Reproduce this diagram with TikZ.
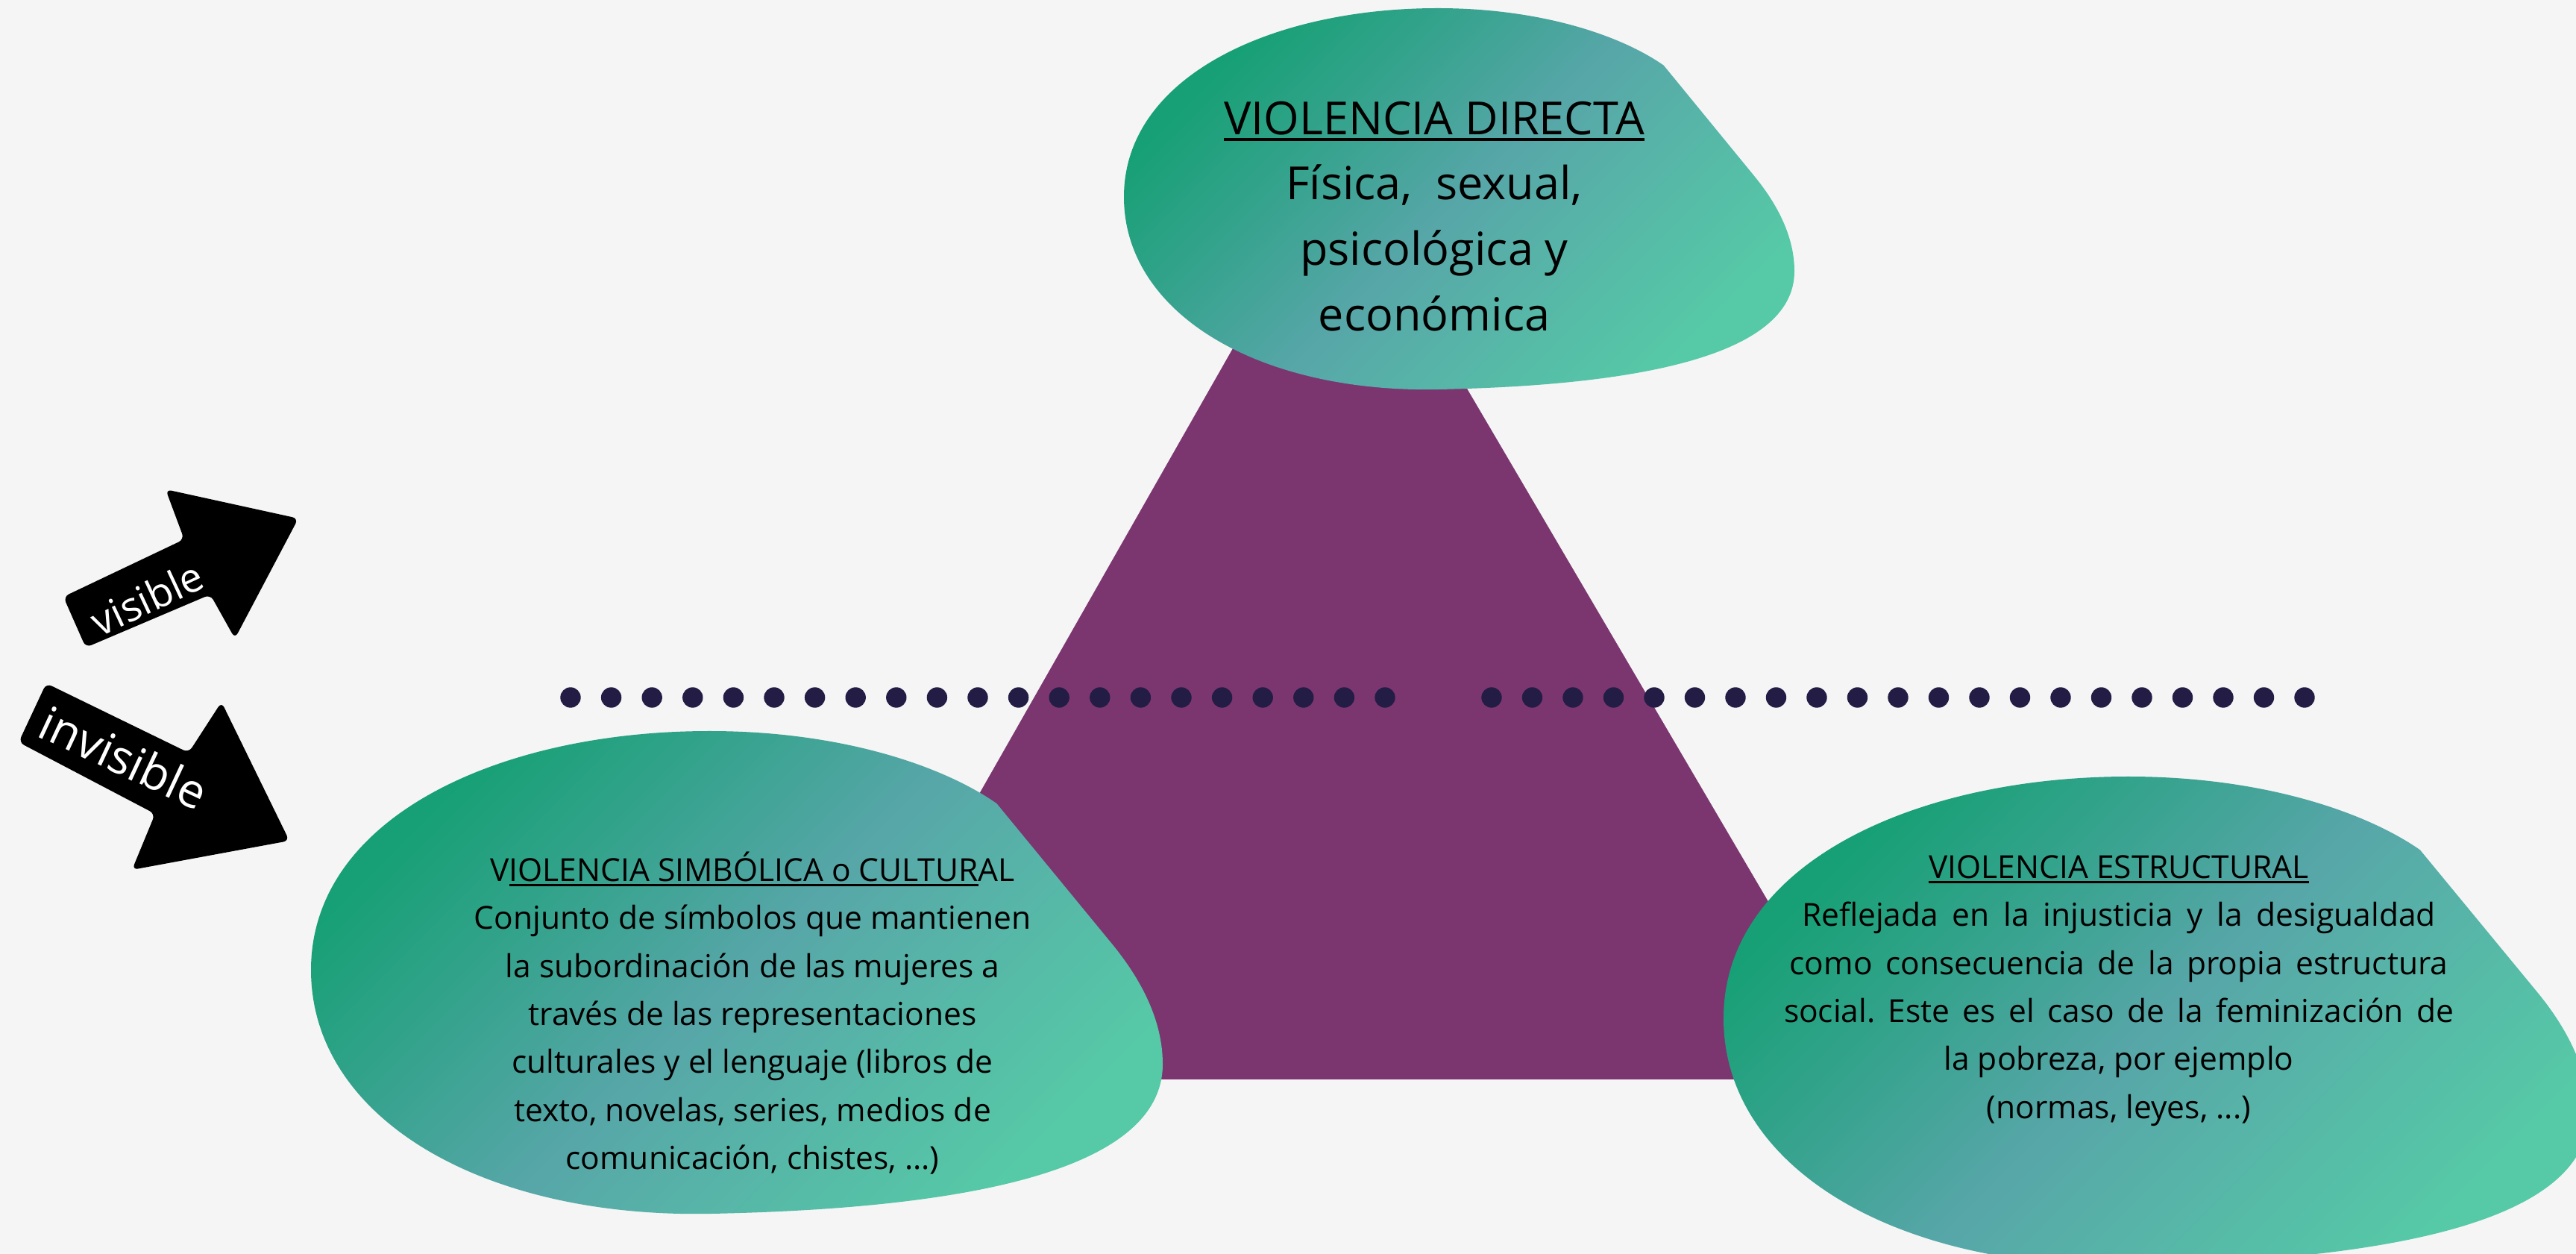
\documentclass[tikz,border=0pt]{standalone}
\usepackage{fontspec}
\setmainfont{Open Sans}
\usetikzlibrary{calc}

\definecolor{vbg}{HTML}{F5F5F5}
\definecolor{vpurple}{HTML}{7B3670}
\definecolor{vdot}{HTML}{231D45}
\definecolor{vgreen}{HTML}{17A075}
\definecolor{vteal}{HTML}{57A6A8}
\definecolor{vmint}{HTML}{56C9A7}

% underline that starts at a given letter
\newcommand{\ulbar}[1]{\setbox0\hbox{#1}\rlap{\rule[-0.15em]{\wd0}{0.07em}}\box0}

% blob: left, top, width, height (cm)
\newcommand{\blobshape}[4]{%
  \begin{scope}[shift={(#1,-#2)}, x={(#3cm,0)}, y={(0,-#4cm)}]
    \shade[blobfill] (0,0.495) .. controls (0,0.18) and (0.22,0) .. (0.468,0)
      .. controls (0.62,0) and (0.74,0.07) .. (0.805,0.15)
      -- (0.94,0.44)
      .. controls (0.975,0.515) and (1,0.6) .. (1,0.69)
      .. controls (1,0.92) and (0.75,0.99) .. (0.47,1)
      .. controls (0.2,1.01) and (0,0.8) .. (0,0.495) -- cycle;
  \end{scope}}

\begin{document}
\frenchspacing
\begin{tikzpicture}[
  blobfill/.style={top color=vgreen, bottom color=vmint, middle color=vteal, shading angle=45},
  blobtext/.style={align=center, text=black, inner sep=0pt},
  arrowshape/.style={fill=black, rounded corners=0.08cm},
  arrowtext/.style={text=white, inner sep=0pt}]
\useasboundingbox (0,0) rectangle (34.54,-16.81);
\fill[vbg] (0,0) rectangle (34.54,-16.81);
\clip (0,0) rectangle (34.54,-16.81);

% triangle behind everything
\fill[vpurple] (10.95,-14.47) -- (25.11,-14.47) -- (17.92,-2.23) -- cycle;

% dotted line visible / invisible
\foreach \i in {0,...,20} {
  \fill[vdot] (7.65+0.546*\i,-9.35) circle (0.137);
  \fill[vdot] (20.00+0.545*\i,-9.35) circle (0.137);
}

% the three blobs
\blobshape{15.07}{0.11}{8.99}{5.11}
\blobshape{4.17}{9.80}{11.42}{6.47}
\blobshape{23.11}{10.41}{11.60}{6.55}

\node[blobtext, font=\fontsize{17.4}{25}\selectfont] (direct) at (19.23,-2.90)
  {\ulbar{VIOLENCIA DIRECTA}\\ Física,\ \ sexual,\\ psicológica y\\ económica};

\node[blobtext, font=\fontsize{12.1}{18.3}\selectfont] (symbolic) at (10.09,-13.58)
  {V\ulbar{IOLENCIA SIMBÓLICA o CULTUR}AL\\
   Conjunto de símbolos que mantienen\\
   la subordinación de las mujeres a\\
   través de las representaciones\\
   culturales y el lenguaje (libros de\\
   texto, novelas, series, medios de\\
   comunicación, chistes, ...)};

\node[blobtext, font=\fontsize{12.1}{18.3}\selectfont] (structural) at (28.41,-13.28)
  {\ulbar{VIOLENCIA ESTRUCTURAL}\\
   \makebox[8.50cm][s]{Reflejada en la injusticia y la desigualdad}\\
   \makebox[8.83cm][s]{como consecuencia de la propia estructura}\\
   \makebox[8.98cm][s]{social.\ Este es el caso de la feminización de}\\
   la pobreza, por ejemplo\\
   (normas, leyes, ...)};

% arrows on the left
\fill[arrowshape] (1.15,-8.68) -- (0.85,-8.00) -- (2.47,-7.23) -- (2.22,-6.56)
  -- (4.00,-6.95) -- (3.15,-8.56) -- (2.82,-7.97) -- cycle;
\node[arrowtext, rotate=25, font=\fontsize{15.5}{17}\selectfont] (vis) at (1.97,-8.02) {visible};

\fill[arrowshape] (0.62,-9.16) -- (0.25,-9.95) -- (2.08,-10.91) -- (1.77,-11.66)
  -- (3.88,-11.27) -- (2.97,-9.41) -- (2.53,-10.09) -- cycle;
\node[arrowtext, rotate=-25, font=\fontsize{18}{20}\selectfont] (invis) at (1.66,-10.15) {invisible};
\end{tikzpicture}
\end{document}
